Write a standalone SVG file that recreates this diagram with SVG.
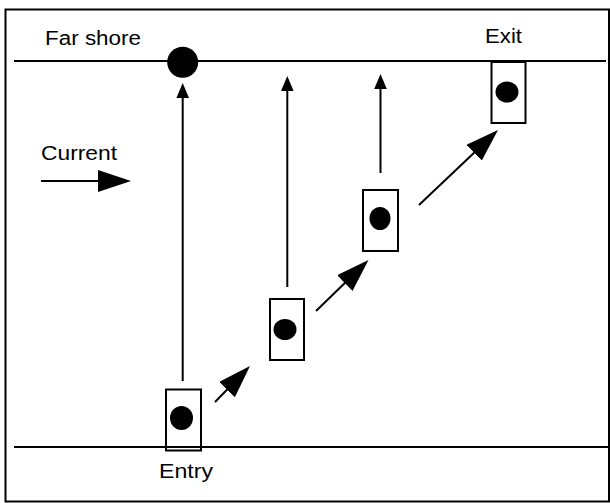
<svg xmlns="http://www.w3.org/2000/svg" width="610" height="503" viewBox="0 0 610 503">
<style>
.frame{fill:none;stroke:#000;stroke-width:2}
.shore{stroke:#000;stroke-width:2}
.boat{fill:none;stroke:#000;stroke-width:2}
.dot{fill:#000}
.conn{stroke:#000;stroke-width:2;fill:none}
.big{marker-end:url(#bigHead)}
.small{marker-end:url(#smallHead)}
text{font-family:"Liberation Sans",Arial,sans-serif;font-size:20px;fill:#000}
</style>
<defs>
<marker id="bigHead" markerUnits="userSpaceOnUse" markerWidth="34" markerHeight="23" refX="28" refY="11" orient="auto">
<path d="M0,0 L33,11 L0,22 Z" fill="#000"/>
</marker>
<marker id="smallHead" markerUnits="userSpaceOnUse" markerWidth="16" markerHeight="13" refX="12" refY="6.3" orient="auto">
<path d="M0,0 L15,6.3 L0,12.6 Z" fill="#000"/>
</marker>
</defs>
<rect class="frame" x="5.5" y="9.5" width="603.5" height="492"/>
<g id="far-shore">
<line class="shore" x1="14" y1="61" x2="606" y2="61"/>
<text x="45" y="45" textLength="96" lengthAdjust="spacingAndGlyphs">Far shore</text>
<circle class="dot" cx="182.7" cy="62.3" r="15.5"/>
</g>
<g id="near-shore">
<line class="shore" x1="14" y1="447" x2="610" y2="447"/>
</g>
<g id="current">
<text x="41" y="160" textLength="76" lengthAdjust="spacingAndGlyphs">Current</text>
</g>
<g id="boat-entry">
<rect class="boat" x="166" y="389.5" width="35" height="61"/>
<ellipse class="dot" cx="181.5" cy="418" rx="11.5" ry="12"/>
<text x="159" y="478" textLength="54" lengthAdjust="spacingAndGlyphs">Entry</text>
</g>
<g id="boat-2">
<rect class="boat" x="270" y="299" width="34" height="61"/>
<ellipse class="dot" cx="285" cy="329.5" rx="11.5" ry="10.5"/>
</g>
<g id="boat-3">
<rect class="boat" x="363" y="190" width="35" height="61"/>
<ellipse class="dot" cx="380" cy="218.5" rx="10.5" ry="11.5"/>
</g>
<g id="boat-exit">
<rect class="boat" x="491.5" y="62" width="34" height="61"/>
<ellipse class="dot" cx="507" cy="92" rx="11.5" ry="10.5"/>
<text x="485" y="42.5" textLength="37" lengthAdjust="spacingAndGlyphs">Exit</text>
</g>
<g id="connectors">
<line class="conn big" x1="41" y1="181" x2="126" y2="181"/>
<line class="conn small" x1="182.7" y1="381" x2="182.7" y2="86"/>
<line class="conn small" x1="287.3" y1="287" x2="287.3" y2="79"/>
<line class="conn small" x1="380.5" y1="173" x2="380.5" y2="77"/>
<line class="conn big" x1="215" y1="402" x2="246.5" y2="369.6"/>
<line class="conn big" x1="316" y1="311" x2="364.9" y2="263.5"/>
<line class="conn big" x1="419" y1="205" x2="494.4" y2="133.4"/>
</g>
</svg>
